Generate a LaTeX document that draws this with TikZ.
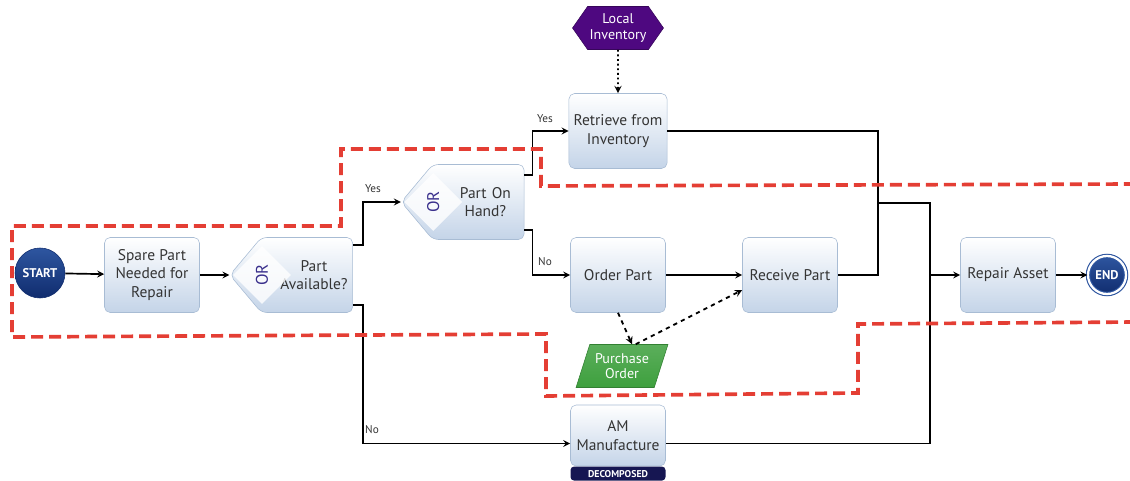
\documentclass[tikz,border=0pt]{standalone}
\usepackage{fontspec}
\setmainfont{PT Sans}
\usetikzlibrary{shapes.geometric}
\usetikzlibrary{shapes.symbols}
\definecolor{box_bottom}{RGB}{196,212,232}
\definecolor{box_line}{RGB}{168,188,212}
\definecolor{navy_blue}{RGB}{16,44,110}
\definecolor{navy_light}{RGB}{46,86,160}
\definecolor{or_blue}{RGB}{58,48,140}
\definecolor{local_purple}{RGB}{78,8,128}
\definecolor{po_green}{RGB}{62,160,62}
\definecolor{tag_navy}{RGB}{22,22,82}
\definecolor{scope_red}{RGB}{228,62,52}
\definecolor{text_grey}{RGB}{52,52,52}

\begin{document}
\begin{tikzpicture}[
  >=stealth,
  task/.style={rectangle,draw=box_line,top color=white,bottom color=box_bottom,minimum width=2.375cm,minimum height=1.875cm,rounded corners=.8ex,align=center,text=text_grey,font=\fontsize{11}{13}\selectfont},
  decision/.style={signal,signal to=west,signal from=nowhere,signal pointer angle=100,draw=box_line,top color=white,bottom color=box_bottom,text width=2.05cm,minimum height=1.875cm,rounded corners=.8ex,align=center,text=text_grey,font=\fontsize{11}{13}\selectfont},
  or_mark/.style={diamond,fill=white,fill opacity=0.8,text opacity=1,minimum size=1.45cm,inner sep=0pt,rotate=90,text=or_blue,font=\fontsize{12}{13}\selectfont},
  store/.style={signal,signal to=east and west,signal pointer angle=110,draw=local_purple!70!black,fill=local_purple,text width=1.45cm,minimum height=1.075cm,inner sep=1pt,align=center,text=white,font=\fontsize{10}{11}\selectfont},
  po/.style={trapezium,trapezium left angle=67,trapezium right angle=113,trapezium stretches=true,draw=po_green!80!black,top color=po_green!85,bottom color=po_green,minimum width=2.3cm,minimum height=1.075cm,inner sep=1pt,align=center,text=white,font=\fontsize{10}{11}\selectfont},
  tag/.style={rectangle,fill=tag_navy,minimum width=2.375cm,minimum height=0.35cm,inner sep=0pt,rounded corners=.5ex,text=white,font=\fontsize{7}{8}\selectfont\bfseries},
  start/.style={circle,draw=navy_blue,top color=navy_light,bottom color=navy_blue,minimum size=1.25cm,inner sep=0pt,text=white,font=\fontsize{9}{10}\selectfont\bfseries},
  finish/.style={circle,draw=navy_light,double=white,double distance=1.6pt,line width=0.8pt,top color=navy_light,bottom color=navy_blue,minimum size=0.95cm,inner sep=0pt,text=white,font=\fontsize{9}{10}\selectfont\bfseries},
  flow/.style={->,line width=1.2pt,black},
  answer/.style={text=text_grey,font=\fontsize{8}{9}\selectfont},
  scope_line/.style={scope_red,line width=2.6pt,dash pattern=on 0.3cm off 0.15cm}
  ]

\useasboundingbox (0,0) rectangle (28.25,12);

% tasks
\node[start] (start) at (1.0,5.175) {START};
\node[task] (spare) at (3.8,5.125) {Spare Part\\Needed for\\Repair};
\node[decision] (avail) at (7.675,5.125) {\hspace*{0.35cm}Part\\\hspace*{0.35cm}Available?};
\node[or_mark] (avail_or) at (6.55,5.125) {OR};
\node[decision] (onhand) at (11.96,6.95) {\hspace*{0.35cm}Part On\\\hspace*{0.35cm}Hand?};
\node[or_mark] (onhand_or) at (10.83,6.95) {OR};
\node[task] (retrieve) at (15.45,8.725) {Retrieve from\\Inventory};
\node[store] (local) at (15.45,11.3) {Local\\Inventory};
\node[task] (order) at (15.45,5.125) {Order Part};
\node[task] (receive) at (19.75,5.125) {Receive Part};
\node[po] (purchase) at (15.55,2.85) {Purchase\\Order};
\node[task,minimum height=1.525cm] (am) at (15.45,1.1125) {AM\\Manufacture};
\node[tag,anchor=north] (am_tag) at (am.south) {DECOMPOSED};
\node[task] (repair) at (25.2,5.125) {Repair Asset};
\node[finish] (finish) at (27.675,5.125) {END};

% joins
\coordinate (merge) at (21.95,6.925);
\coordinate (join) at (23.25,6.925);

% flow
\draw[flow] (start) -- (spare);
\draw[flow] (spare) -- (avail.west);
\draw[flow] ([yshift=0.75cm]avail.east) -- ++(0.25,0) |- (onhand.west);
\draw[flow] ([yshift=-0.75cm]avail.east) -- ++(0.25,0) |- ([yshift=-0.2cm]am.west);
\draw[flow] ([yshift=0.675cm]onhand.east) -- ++(0.2,0) |- (retrieve.west);
\draw[flow] ([yshift=-0.7cm]onhand.east) -- ++(0.2,0) |- (order.west);
\draw[flow] (order) -- (receive);
\draw[line width=1.2pt] (retrieve.east) -| (merge) |- (receive.east);
\draw[line width=1.2pt] (merge) -- (join) |- ([yshift=-0.2cm]am.east);
\draw[flow] (join |- repair.west) -- (repair.west);
\draw[flow] (repair) -- (finish);

% data
\draw[->,line width=1.3pt,dotted] (local) -- (retrieve);
\draw[->,line width=1.3pt,dashed] (order.south) -- ([xshift=0.25cm]purchase.north);
\draw[->,line width=1.3pt,dashed] ([xshift=-0.2cm]purchase.north east) -- ([yshift=-0.375cm]receive.west);

% answers
\node[answer] (yes_avail) at (9.325,7.275) {Yes};
\node[answer] (no_avail) at (9.3,1.25) {No};
\node[answer] (yes_onhand) at (13.625,9.025) {Yes};
\node[answer] (no_onhand) at (13.625,5.45) {No};

% scope
\draw[scope_line] (28.4,3.95) -- (21.45,3.9) -- (21.45,2.175) -- (13.65,2.1) -- (13.65,3.65) -- (0.3,3.575)
  -- (0.3,6.35) -- (8.525,6.35) -- (8.525,8.275) -- (13.525,8.275) -- (13.525,7.35) -- (28.4,7.4);

\end{tikzpicture}
\end{document}
